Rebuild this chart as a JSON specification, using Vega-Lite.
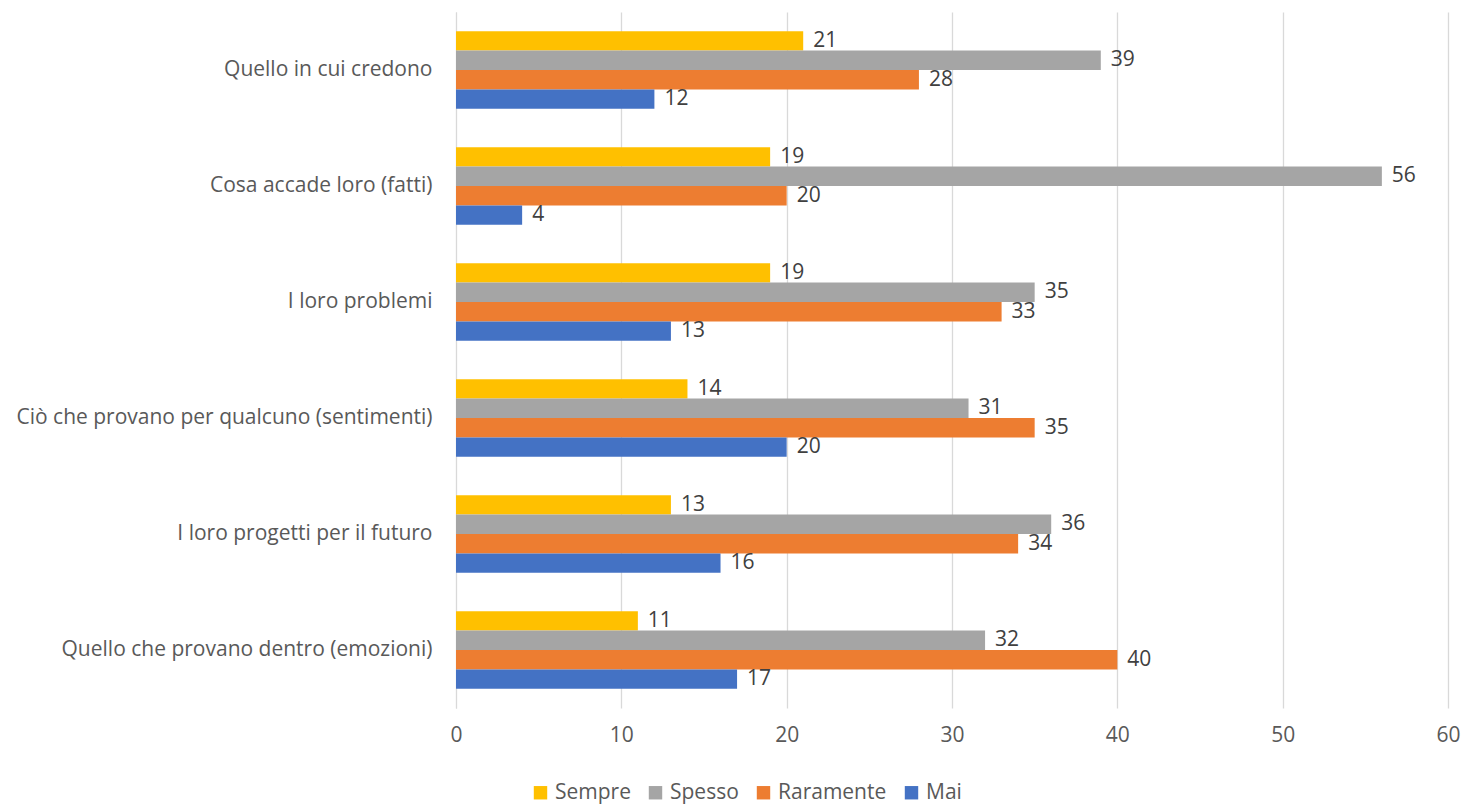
{
  "$schema": "https://vega.github.io/schema/vega-lite/v6.json",
  "autosize": "none",
  "width": 992,
  "height": 696,
  "padding": {"left": 456, "top": 12, "right": 17, "bottom": 98},
  "background": "white",
  "config": {"font": "Open Sans", "view": {"stroke": null}},
  "data": {"values": [
    {"cat": "Quello in cui credono", "serie": "Sempre", "v": 21},
    {"cat": "Quello in cui credono", "serie": "Spesso", "v": 39},
    {"cat": "Quello in cui credono", "serie": "Raramente", "v": 28},
    {"cat": "Quello in cui credono", "serie": "Mai", "v": 12},
    {"cat": "Cosa accade loro (fatti)", "serie": "Sempre", "v": 19},
    {"cat": "Cosa accade loro (fatti)", "serie": "Spesso", "v": 56},
    {"cat": "Cosa accade loro (fatti)", "serie": "Raramente", "v": 20},
    {"cat": "Cosa accade loro (fatti)", "serie": "Mai", "v": 4},
    {"cat": "I loro problemi", "serie": "Sempre", "v": 19},
    {"cat": "I loro problemi", "serie": "Spesso", "v": 35},
    {"cat": "I loro problemi", "serie": "Raramente", "v": 33},
    {"cat": "I loro problemi", "serie": "Mai", "v": 13},
    {"cat": "Ciò che provano per qualcuno (sentimenti)", "serie": "Sempre", "v": 14},
    {"cat": "Ciò che provano per qualcuno (sentimenti)", "serie": "Spesso", "v": 31},
    {"cat": "Ciò che provano per qualcuno (sentimenti)", "serie": "Raramente", "v": 35},
    {"cat": "Ciò che provano per qualcuno (sentimenti)", "serie": "Mai", "v": 20},
    {"cat": "I loro progetti per il futuro", "serie": "Sempre", "v": 13},
    {"cat": "I loro progetti per il futuro", "serie": "Spesso", "v": 36},
    {"cat": "I loro progetti per il futuro", "serie": "Raramente", "v": 34},
    {"cat": "I loro progetti per il futuro", "serie": "Mai", "v": 16},
    {"cat": "Quello che provano dentro (emozioni)", "serie": "Sempre", "v": 11},
    {"cat": "Quello che provano dentro (emozioni)", "serie": "Spesso", "v": 32},
    {"cat": "Quello che provano dentro (emozioni)", "serie": "Raramente", "v": 40},
    {"cat": "Quello che provano dentro (emozioni)", "serie": "Mai", "v": 17}
  ]},
  "encoding": {
    "y": {
      "field": "cat", "type": "nominal", "sort": null,
      "scale": {"paddingInner": 0.33, "paddingOuter": 0.165},
      "axis": {"title": null, "ticks": false, "domain": true, "domainColor": "#D9D9D9", "labelFontSize": 21, "labelColor": "#595959", "labelPadding": 24, "labelLimit": 500}
    },
    "yOffset": {"field": "serie", "type": "nominal", "sort": ["Sempre", "Spesso", "Raramente", "Mai"]},
    "x": {
      "field": "v", "type": "quantitative",
      "scale": {"domain": [0, 60], "nice": false},
      "axis": {"title": null, "values": [0,10,20,30,40,50,60], "labelOverlap": false, "labelFlush": false, "grid": true, "gridColor": "#D9D9D9", "gridWidth": 1.3, "domain": false, "ticks": false, "labelFontSize": 21, "labelColor": "#595959", "labelPadding": 16}
    }
  },
  "layer": [
    {
      "mark": {"type": "bar"},
      "encoding": {
        "color": {
          "field": "serie", "type": "nominal",
          "scale": {"domain": ["Sempre", "Spesso", "Raramente", "Mai"], "range": ["#FFC000", "#A5A5A5", "#ED7D31", "#4472C4"]},
          "legend": {"title": null, "orient": "none", "direction": "horizontal", "legendX": 74, "legendY": 770, "symbolType": "square", "symbolSize": 180, "symbolStrokeWidth": 0, "labelFontSize": 21, "labelColor": "#595959", "columnPadding": 14, "labelOffset": 4}
        }
      }
    },
    {
      "mark": {"type": "text", "align": "left", "dx": 10, "fontSize": 21, "color": "#404040"},
      "encoding": {"text": {"field": "v", "type": "quantitative"}}
    }
  ]
}
